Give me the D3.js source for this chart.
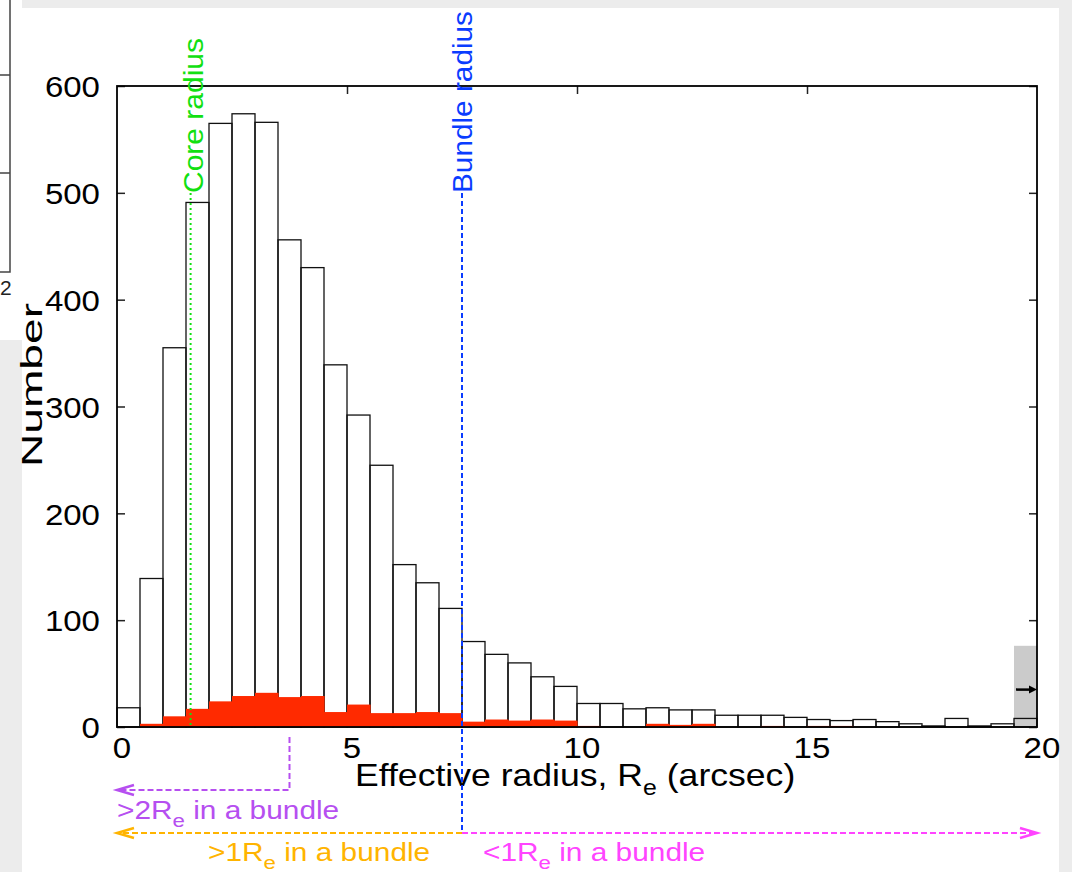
<!DOCTYPE html>
<html>
<head>
<meta charset="utf-8">
<script src="https://cdn.jsdelivr.net/npm/d3@7"></script>
<style>
  body { margin: 0; background: #ececec; }
  svg { display: block; }
  text { font-family: "Liberation Sans", Arial, Helvetica, sans-serif; }
</style>
</head>
<body>
<svg></svg>
<script>
const binWidth = 0.5;
const binStarts = d3.range(0, 20, binWidth);
const allCounts = [18, 139, 355, 491, 565, 574, 566, 456, 430, 339,
  292, 245, 152, 135, 111, 80, 68, 60, 47, 38,
  22, 22, 17, 18, 16, 16, 11, 11, 11, 9,
  7, 6, 7, 5, 3, 1, 8, 1, 3, 8];
const redCounts = [0, 3, 10, 17, 24, 29, 32, 28, 29, 14,
  21, 13, 13, 14, 13, 5, 7, 6, 7, 6,
  1, 0, 0, 3, 2, 3, 0, 0, 1, 0,
  1, 1, 0, 0, 0, 0, 0, 0, 0, 0];
const overflowBin = [19.5, 20];
const overflowHeight = 76;
const overflowArrow = 35;
const coreRadius = 1.6;
const bundleRadius = 7.5;
const twoReLimit = 3.75;
const yTicks = [0, 100, 200, 300, 400, 500, 600];
const xTicks = [0, 5, 10, 15, 20];

const width = 1079;
const height = 872;
const plotLeft = 117, plotRight = 1037, plotTop = 86, plotBottom = 727;

const svg = d3.select('svg')
  .attr('width', width)
  .attr('height', height);

// page background pieces
svg.append('rect').attr('x', 0).attr('y', 0).attr('width', width).attr('height', height).attr('fill', '#ececec');
svg.append('rect').attr('x', 22).attr('y', 8).attr('width', 1037).attr('height', height - 8).attr('fill', 'white');
svg.append('rect').attr('x', 0).attr('y', 0).attr('width', 22).attr('height', 340).attr('fill', 'white');
svg.append('rect').attr('x', 1072).attr('y', 0).attr('width', 7).attr('height', height).attr('fill', 'white');

// fragment of neighbouring figure
const frag = svg.append('g').attr('stroke', '#444').attr('stroke-width', 1.5).attr('fill', 'none');
frag.append('path').attr('d', 'M10,0V272H0');
frag.append('path').attr('d', 'M0,75H10M0,173H10');
svg.append('text')
  .attr('x', 0).attr('y', 295)
  .style('font-size', '21px')
  .attr('fill', '#222')
  .text('2');

const x = d3.scaleLinear().domain([0, 20]).range([plotLeft, plotRight]);
const y = d3.scaleLinear().domain([0, 600]).range([plotBottom, plotTop]);

const plot = svg.append('g');

plot.append('rect')
  .attr('x', x(overflowBin[0]))
  .attr('y', y(overflowHeight))
  .attr('width', x(overflowBin[1]) - x(overflowBin[0]))
  .attr('height', y(0) - y(overflowHeight))
  .attr('fill', '#cbcbcb');

plot.selectAll('rect.all')
  .data(allCounts)
  .join('rect')
  .attr('class', 'all')
  .attr('x', (d, i) => x(binStarts[i]))
  .attr('y', d => y(d))
  .attr('width', x(binWidth) - x(0))
  .attr('height', d => y(0) - y(d))
  .attr('fill', 'none')
  .attr('stroke', '#111')
  .attr('stroke-width', 1.3);

plot.selectAll('rect.red')
  .data(redCounts)
  .join('rect')
  .attr('class', 'red')
  .attr('x', (d, i) => x(binStarts[i]))
  .attr('y', d => y(d))
  .attr('width', x(binWidth) - x(0) + 0.6)
  .attr('height', d => y(0) - y(d))
  .attr('fill', '#ff2a00');

// overflow arrow
plot.append('line')
  .attr('x1', x(overflowBin[0]) + 2)
  .attr('x2', x(overflowBin[1]) - 6)
  .attr('y1', y(overflowArrow))
  .attr('y2', y(overflowArrow))
  .attr('stroke', 'black')
  .attr('stroke-width', 2.5);
plot.append('path')
  .attr('d', `M${x(20)},${y(overflowArrow)}l-8,-4v8z`)
  .attr('fill', 'black');

// axes
const tickStyle = g => {
  g.select('.domain').remove();
  g.selectAll('.tick line').attr('stroke', '#222').attr('stroke-width', 1.5);
};

svg.append('g')
  .attr('transform', `translate(${plotLeft},0)`)
  .call(d3.axisLeft(y).tickValues(yTicks).tickSize(-8).tickPadding(15.5))
  .call(tickStyle)
  .call(g => g.selectAll('text')
    .style('font-size', '30px')
    .attr('fill', 'black')
    .attr('dy', '0.36em')
    .attr('transform', 'scale(1.1,1)'));

svg.append('g')
  .attr('transform', `translate(${plotRight},0)`)
  .call(d3.axisRight(y).tickValues(yTicks).tickSize(-8).tickFormat(''))
  .call(tickStyle);

svg.append('g')
  .attr('transform', `translate(0,${plotTop})`)
  .call(d3.axisTop(x).tickValues([5, 10, 15]).tickSize(-8).tickFormat(''))
  .call(tickStyle);

svg.append('g')
  .attr('transform', `translate(0,${plotBottom})`)
  .call(d3.axisBottom(x).tickValues(xTicks).tickSize(0).tickPadding(10))
  .call(tickStyle)
  .call(g => g.selectAll('text')
    .style('font-size', '30px')
    .attr('fill', 'black')
    .attr('dx', 4)
    .attr('transform', 'scale(1.1,1)'));

svg.append('rect')
  .attr('x', plotLeft)
  .attr('y', plotTop)
  .attr('width', plotRight - plotLeft)
  .attr('height', plotBottom - plotTop)
  .attr('fill', 'none')
  .attr('stroke', 'black')
  .attr('stroke-width', 1.8);

// axis titles
const xTitle = svg.append('text')
  .attr('transform', 'translate(355,786) scale(1.13,1)')
  .style('font-size', '31.5px')
  .attr('fill', 'black');
xTitle.append('tspan').text('Effective radius, R');
xTitle.append('tspan').attr('dy', 9).style('font-size', '22px').text('e');
xTitle.append('tspan').attr('dy', -9).text(' (arcsec)');

svg.append('text')
  .attr('transform', 'translate(42,385) rotate(-90)')
  .attr('text-anchor', 'middle')
  .style('font-size', '30px')
  .attr('textLength', 164)
  .attr('lengthAdjust', 'spacingAndGlyphs')
  .attr('fill', 'black')
  .text('Number');

// reference lines
const labelTop = 193;

svg.append('line')
  .attr('x1', x(coreRadius)).attr('x2', x(coreRadius))
  .attr('y1', labelTop).attr('y2', plotBottom)
  .attr('stroke', '#11e011')
  .attr('stroke-width', 2)
  .attr('stroke-dasharray', '2,3');
svg.append('text')
  .attr('transform', `translate(${x(coreRadius) + 12},${labelTop}) rotate(-90)`)
  .style('font-size', '28px')
  .attr('textLength', 155)
  .attr('lengthAdjust', 'spacingAndGlyphs')
  .attr('fill', '#11e011')
  .text('Core radius');

svg.append('line')
  .attr('x1', x(bundleRadius)).attr('x2', x(bundleRadius))
  .attr('y1', labelTop).attr('y2', 833)
  .attr('stroke', '#0a3cff')
  .attr('stroke-width', 2)
  .attr('stroke-dasharray', '5,3');
svg.append('text')
  .attr('transform', `translate(${x(bundleRadius) + 10},${labelTop}) rotate(-90)`)
  .style('font-size', '28px')
  .attr('textLength', 182)
  .attr('lengthAdjust', 'spacingAndGlyphs')
  .attr('fill', '#0a3cff')
  .text('Bundle radius');

// bundle annotations
const chevron = (tipX, yy, dir) =>
  `M${tipX + dir * 17},${yy - 5}L${tipX},${yy}L${tipX + dir * 17},${yy + 5}`;

const purple = '#b64ff0';
const orange = '#ffb400';
const pink = '#ff44ff';

svg.append('path')
  .attr('d', `M${x(twoReLimit)},737V790H${x(0)}`)
  .attr('fill', 'none')
  .attr('stroke', purple)
  .attr('stroke-width', 2)
  .attr('stroke-dasharray', '6,3');
svg.append('path')
  .attr('d', chevron(x(0), 790, 1))
  .attr('fill', 'none')
  .attr('stroke', purple)
  .attr('stroke-width', 2.5);

svg.append('line')
  .attr('x1', x(bundleRadius)).attr('x2', x(0))
  .attr('y1', 833).attr('y2', 833)
  .attr('stroke', orange)
  .attr('stroke-width', 2)
  .attr('stroke-dasharray', '6,3');
svg.append('path')
  .attr('d', chevron(x(0), 833, 1))
  .attr('fill', 'none')
  .attr('stroke', orange)
  .attr('stroke-width', 2.5);

svg.append('line')
  .attr('x1', x(bundleRadius)).attr('x2', x(20))
  .attr('y1', 833).attr('y2', 833)
  .attr('stroke', pink)
  .attr('stroke-width', 2)
  .attr('stroke-dasharray', '6,3');
svg.append('path')
  .attr('d', chevron(x(20), 833, -1))
  .attr('fill', 'none')
  .attr('stroke', pink)
  .attr('stroke-width', 2.5);

const annot = (xx, yy, pre, post, color) => {
  const t = svg.append('text')
    .attr('transform', `translate(${xx},${yy}) scale(1.17,1)`)
    .style('font-size', '25.5px')
    .attr('fill', color);
  t.append('tspan').text(pre);
  t.append('tspan').attr('dy', 8).style('font-size', '19px').text('e');
  t.append('tspan').attr('dy', -8).text(' ' + post);
};

annot(117, 819, '>2R', 'in a bundle', purple);
annot(208, 861, '>1R', 'in a bundle', orange);
annot(483, 861, '<1R', 'in a bundle', pink);
</script>
</body>
</html>
